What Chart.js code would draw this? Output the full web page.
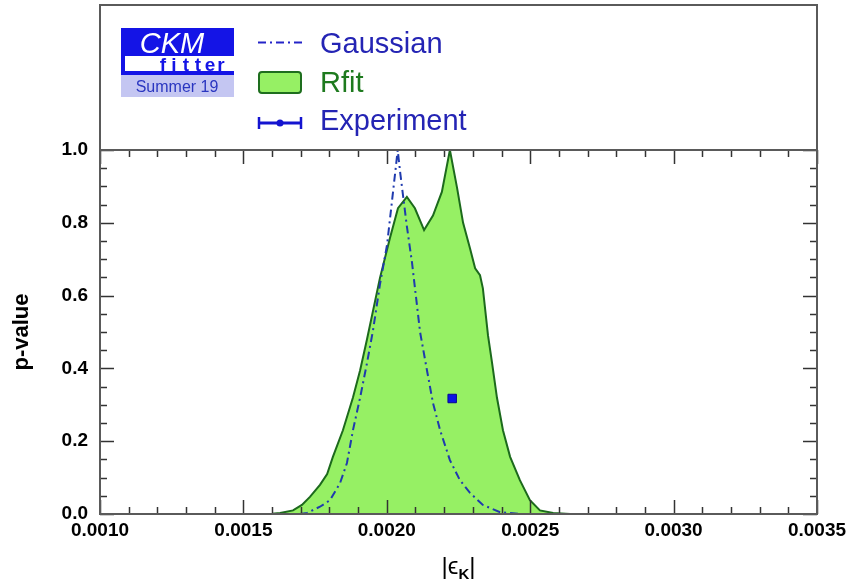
<!DOCTYPE html>
<html lang="en">
<head>
<meta charset="UTF-8" />
<title>CKMfitter |ϵK| p-value</title>
<script src="https://cdn.jsdelivr.net/npm/chart.js"></script>
<style>
  body { margin: 0; background: #fff; }
  canvas { display: block; }
</style>
</head>
<body>
<canvas id="chartEps" width="847" height="583"></canvas>

<script>
// tick labels
const xTicks = [0.0010, 0.0015, 0.0020, 0.0025, 0.0030, 0.0035];
const yTicks = [0.0, 0.2, 0.4, 0.6, 0.8, 1.0];

// Rfit p-value curve
const rfitX = [0.00150, 0.00156, 0.00160, 0.001628, 0.001673, 0.001704, 0.001732, 0.001767, 0.001792,
  0.001812, 0.001847, 0.001882, 0.001907, 0.001931, 0.001976, 0.002011, 0.002039, 0.002070,
  0.002098, 0.002130, 0.002161, 0.002192, 0.002220, 0.002245, 0.002266, 0.002290, 0.002308,
  0.002325, 0.002335, 0.002353, 0.002367, 0.002384, 0.002405, 0.002430, 0.002464, 0.002499,
  0.002534, 0.002580, 0.002639, 0.00270];
const rfitY = [0.0, 0.0, 0.001, 0.003, 0.010, 0.025, 0.047, 0.080, 0.110,
  0.157, 0.230, 0.320, 0.395, 0.480, 0.648, 0.758, 0.840, 0.871,
  0.840, 0.780, 0.820, 0.885, 1.000, 0.896, 0.800, 0.730, 0.675,
  0.656, 0.620, 0.490, 0.415, 0.320, 0.230, 0.157, 0.093, 0.038,
  0.010, 0.003, 0.0, 0.0];

// Gaussian p-value curve
const gaussX = [0.001697, 0.001722, 0.001767, 0.001802, 0.001837, 0.001861, 0.001882, 0.001907,
  0.001931, 0.001952, 0.001976, 0.002001, 0.002029, 0.002038, 0.002047, 0.002070, 0.002088,
  0.002116, 0.002140, 0.002161, 0.002186, 0.002220, 0.002255, 0.002290, 0.002335, 0.002395, 0.002464];
const gaussY = [0.0, 0.003, 0.020, 0.038, 0.085, 0.140, 0.230, 0.320,
  0.415, 0.505, 0.630, 0.740, 0.936, 1.000, 0.936, 0.790, 0.690,
  0.500, 0.395, 0.305, 0.230, 0.148, 0.093, 0.058, 0.025, 0.005, 0.0];

// experimental point
const expValue = 0.002228;
const expError = 0.000011;
const expLevel = 0.3173;

const FONT = "'Liberation Sans', Arial, Helvetica, sans-serif";
const BLUE_TXT = '#2424b4';

const toPoints = (xs, ys) => xs.map((x, i) => ({ x: x, y: ys[i] }));

function line(ctx, x1, y1, x2, y2) {
  ctx.beginPath();
  ctx.moveTo(x1, y1);
  ctx.lineTo(x2, y2);
  ctx.stroke();
}

// inward ticks on all four sides + frame, then logo / legend / x title
const framePlugin = {
  id: 'frame',
  afterDatasetsDraw(chart) {
    const { ctx, chartArea: a, scales: { x, y } } = chart;
    ctx.save();
    ctx.strokeStyle = '#333';
    ctx.lineWidth = 1.5;
    for (let i = 0; i <= 25; i++) {
      const px = Math.round(x.getPixelForValue(xTicks[0] + i * 0.0001)) + 0.5;
      const len = i % 5 === 0 ? 14 : 7;
      line(ctx, px, a.bottom, px, a.bottom - len);
      line(ctx, px, a.top, px, a.top + len);
    }
    for (let i = 0; i <= 20; i++) {
      const py = Math.round(y.getPixelForValue(i * 0.05)) + 0.5;
      const len = i % 4 === 0 ? 14 : 7;
      line(ctx, a.left, py, a.left + len, py);
      line(ctx, a.right, py, a.right - len, py);
    }
    ctx.strokeStyle = '#5a5a5a';
    ctx.lineWidth = 2;
    ctx.strokeRect(a.left, 5, a.right - a.left, a.bottom - 5);
    line(ctx, a.left, a.top, a.right, a.top);
    ctx.restore();
  },
  afterDraw(chart) {
    const { ctx, chartArea: a } = chart;
    ctx.save();

    // x axis title |ϵK|
    ctx.fillStyle = '#000';
    ctx.textBaseline = 'alphabetic';
    const p1 = '|\u03F5';
    ctx.font = '24px ' + FONT;
    const w1 = ctx.measureText(p1).width;
    ctx.font = 'bold 15px ' + FONT;
    const w2 = ctx.measureText('K').width;
    ctx.font = '24px ' + FONT;
    const w3 = ctx.measureText('|').width;
    let tx = (a.left + a.right) / 2 - (w1 + w2 + w3) / 2;
    const ty = 574;
    ctx.fillText(p1, tx, ty);
    tx += w1;
    ctx.font = 'bold 15px ' + FONT;
    ctx.fillText('K', tx, ty + 5);
    tx += w2;
    ctx.font = '24px ' + FONT;
    ctx.fillText('|', tx, ty);

    // CKM fitter logo
    ctx.fillStyle = '#1414e6';
    ctx.fillRect(121, 28, 113, 28);
    ctx.fillRect(121, 56, 4, 16);
    ctx.fillRect(121, 71, 113, 4);
    ctx.fillStyle = '#c4c6f2';
    ctx.fillRect(121, 75, 113, 22);
    ctx.fillStyle = '#fff';
    ctx.font = 'italic 29px ' + FONT;
    ctx.textAlign = 'center';
    ctx.fillText('CKM', 172, 53);
    ctx.fillStyle = '#1414e6';
    ctx.font = 'bold 19px ' + FONT;
    const letters = 'fitter';
    const letterX = [163, 174, 186, 198, 210, 221];
    for (let i = 0; i < letters.length; i++) {
      ctx.fillText(letters[i], letterX[i], 71);
    }
    ctx.fillStyle = '#2a36c0';
    ctx.font = '16px ' + FONT;
    ctx.fillText('Summer 19', 177, 92);

    // legend entries
    ctx.textAlign = 'left';
    ctx.font = '29px ' + FONT;
    ctx.lineWidth = 2;
    ctx.strokeStyle = '#2424c8';
    ctx.setLineDash([8, 4, 2, 4]);
    line(ctx, 258, 42.5, 302, 42.5);
    ctx.setLineDash([]);
    ctx.fillStyle = BLUE_TXT;
    ctx.fillText('Gaussian', 320, 53);

    ctx.fillStyle = '#96f064';
    ctx.strokeStyle = '#1e6e1e';
    ctx.beginPath();
    ctx.roundRect(259, 72, 42, 21, 3);
    ctx.fill();
    ctx.stroke();
    ctx.fillStyle = '#1e7a1e';
    ctx.fillText('Rfit', 320, 92);

    ctx.strokeStyle = '#1414d0';
    ctx.lineWidth = 3;
    line(ctx, 259, 123, 301, 123);
    ctx.lineWidth = 2.5;
    line(ctx, 259, 117, 259, 129);
    line(ctx, 301, 117, 301, 129);
    ctx.fillStyle = '#1414d0';
    ctx.beginPath();
    ctx.arc(280, 123, 3.5, 0, Math.PI * 2);
    ctx.fill();
    ctx.fillStyle = BLUE_TXT;
    ctx.fillText('Experiment', 320, 130);

    ctx.restore();
  }
};

const ctx = document.getElementById('chartEps').getContext('2d');

new Chart(ctx, {
  type: 'line',
  data: {
    datasets: [
      {
        label: 'Experiment',
        type: 'scatter',
        data: [{ x: expValue, y: expLevel }],
        pointStyle: 'rect',
        pointRadius: 6,
        backgroundColor: '#0a14e6',
        borderColor: '#0a0a90',
        borderWidth: 1,
        order: 0
      },
      {
        label: 'Experiment error',
        data: [{ x: expValue - expError, y: expLevel }, { x: expValue + expError, y: expLevel }],
        borderColor: '#0a14e6',
        borderWidth: 2,
        pointStyle: 'line',
        rotation: 90,
        pointRadius: 4,
        pointBorderColor: '#0a14e6',
        pointBorderWidth: 2,
        fill: false,
        order: 1
      },
      {
        label: 'Gaussian',
        data: toPoints(gaussX, gaussY),
        borderColor: '#1f3aae',
        borderWidth: 2,
        borderDash: [8, 4, 2, 4],
        pointRadius: 0,
        tension: 0,
        fill: false,
        order: 2
      },
      {
        label: 'Rfit',
        data: toPoints(rfitX, rfitY),
        borderColor: '#1c6a1c',
        backgroundColor: '#96f064',
        borderWidth: 2,
        pointRadius: 0,
        tension: 0,
        fill: 'origin',
        order: 3
      }
    ]
  },
  options: {
    responsive: false,
    animation: false,
    events: [],
    layout: { padding: { top: 150, right: 30, left: 0, bottom: 0 } },
    plugins: {
      legend: { display: false },
      tooltip: { enabled: false }
    },
    scales: {
      x: {
        type: 'linear',
        min: xTicks[0],
        max: xTicks[xTicks.length - 1],
        grid: { display: false, drawTicks: false },
        border: { display: false },
        afterBuildTicks: s => { s.ticks = xTicks.map(v => ({ value: v })); },
        afterFit: s => { s.height = 69; s.paddingLeft = 0; s.paddingRight = 0; },
        ticks: {
          maxRotation: 0,
          autoSkip: false,
          padding: 5,
          color: '#000',
          font: { family: FONT, size: 19, weight: 'bold' },
          callback: v => v.toFixed(4)
        }
      },
      y: {
        min: yTicks[0],
        max: yTicks[yTicks.length - 1],
        grid: { display: false, drawTicks: false },
        border: { display: false },
        afterBuildTicks: s => { s.ticks = yTicks.map(v => ({ value: v })); },
        afterFit: s => { s.width = 100; s.paddingTop = 0; s.paddingBottom = 0; },
        ticks: {
          padding: 12,
          color: '#000',
          font: { family: FONT, size: 19, weight: 'bold' },
          callback: v => v.toFixed(1)
        },
        title: {
          display: true,
          text: 'p-value',
          color: '#000',
          font: { family: FONT, size: 22, weight: 'bold' },
          padding: { top: 9 }
        }
      }
    }
  },
  plugins: [framePlugin]
});
</script>
</body>
</html>
